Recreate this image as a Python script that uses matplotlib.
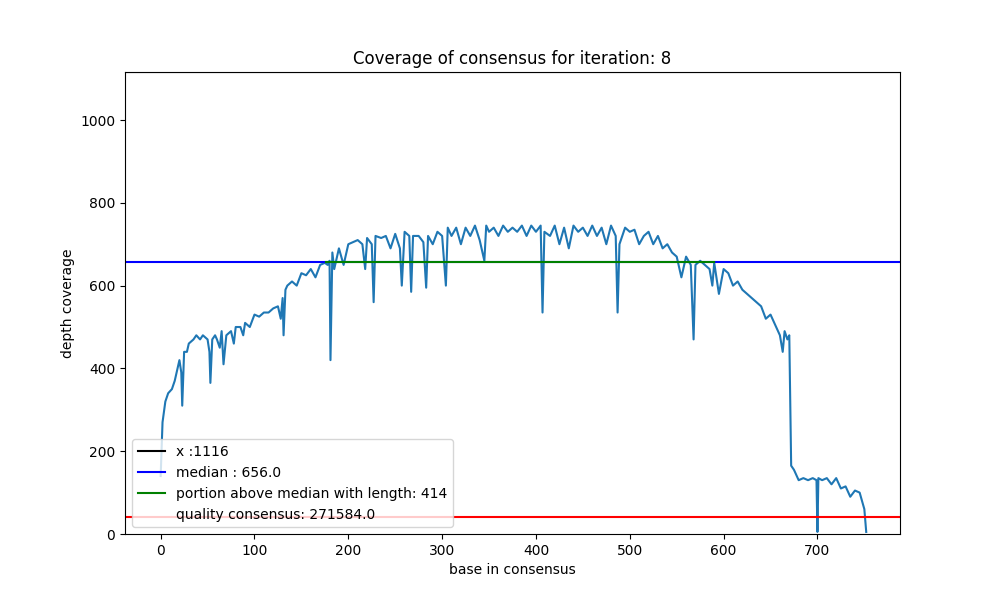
import matplotlib
matplotlib.use("Agg")
import matplotlib.pyplot as plt

pos = [0,2,5,8,12,15,18,20,22,23,25,28,30,35,38,42,45,50,52,53,55,58,60,63,65,67,70,75,78,80,85,88,90,95,100,105,110,115,120,125,128,130,131,133,135,140,145,150,155,160,165,170,175,178,180,181,183,185,190,195,200,205,210,215,218,220,225,227,229,235,240,245,250,255,257,260,265,267,269,275,280,283,285,290,295,300,304,306,310,315,320,325,330,335,340,345,347,350,355,360,365,370,375,380,385,390,395,400,405,407,409,415,420,425,430,435,440,445,450,455,460,465,470,475,480,485,487,489,495,500,505,510,515,520,525,530,535,540,545,550,555,560,565,568,570,575,580,585,588,590,595,600,605,610,615,620,625,630,635,640,645,650,655,660,663,665,668,670,672,675,680,685,690,695,699,700,701,705,710,715,720,725,730,735,740,745,750,752]
depth = [140,270,320,340,350,370,400,420,390,310,440,440,460,470,480,470,480,470,440,365,470,480,470,450,490,410,480,490,460,500,500,480,510,500,530,525,535,535,545,550,520,570,480,590,600,610,600,630,625,640,620,650,655,650,660,420,680,640,690,650,700,705,710,700,640,715,700,560,720,715,720,690,725,690,600,730,720,585,720,720,705,595,720,700,730,720,600,740,720,740,700,740,720,745,710,660,745,730,740,720,745,730,740,730,745,720,745,730,745,535,730,720,745,700,740,690,745,730,740,720,745,720,740,700,745,720,535,700,740,730,735,700,720,730,700,720,690,700,680,670,620,670,650,470,650,660,650,640,600,655,580,640,630,600,610,590,580,570,560,550,520,530,505,480,440,490,470,480,165,155,130,135,130,135,130,5,135,130,135,120,135,110,115,90,105,100,60,5]

max_cov = 1116
median = 656.0
portion_start, portion_end = 176, 590
portion_len = 414
quality_line = 42
quality = 271584.0

fig, ax = plt.subplots(figsize=(10, 6), dpi=100)
ax.plot(pos, depth, color="#1f77b4")
ax.axhline(max_cov, color="black", label=f"x :{max_cov}")
ax.axhline(median, color="blue", label=f"median : {median}")
ax.plot([portion_start, portion_end], [median, median], color="green",
        label=f"portion above median with length: {portion_len}")
ax.axhline(quality_line, color="red")
ax.plot([], [], color="none", label=f"quality consensus: {quality}")
ax.set_xlim(-38, 788)
ax.set_ylim(0, max_cov)
ax.set_title("Coverage of consensus for iteration: 8")
ax.set_xlabel("base in consensus")
ax.set_ylabel("depth coverage")
ax.legend(loc="lower left")
fig.savefig("out.png")
